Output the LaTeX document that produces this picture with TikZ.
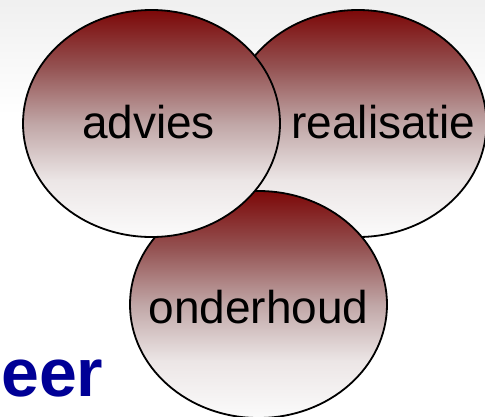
\documentclass[tikz,border=0pt]{standalone}
\usepackage{fontspec}
\setmainfont{Liberation Sans}
\usetikzlibrary{shapes.geometric}
\definecolor{sc0}{RGB}{251,251,251}
\definecolor{sc1}{RGB}{236,230,230}
\definecolor{sc2}{RGB}{192,166,166}
\definecolor{sc3}{RGB}{148,82,82}
\definecolor{sc4}{RGB}{124,8,8}
\definecolor{eerblue}{RGB}{0,0,150}
\pgfdeclareverticalshading{ovalshade}{100bp}{color(0bp)=(sc0); color(25bp)=(sc0); color(37.5bp)=(sc1); color(50bp)=(sc2); color(62.5bp)=(sc3); color(75bp)=(sc4); color(100bp)=(sc4)}
\tikzset{
  oval/.style={ellipse, draw=black, line width=1.8pt, shading=ovalshade,
    minimum width=257pt, minimum height=227pt, inner sep=0pt},
  ovallabel/.style={anchor=base, inner sep=0pt, font=\fontsize{46}{46}\selectfont},
}
\begin{document}
\begin{tikzpicture}[x=1pt,y=-1pt]
\useasboundingbox (0,0) rectangle (485,416);
\clip (0,0) rectangle (485,416);
\fill[white] (0,0) rectangle (485,416);
\shade[top color=black!6, bottom color=white] (0,0) rectangle (485,115);
\node[oval] (realisatie) at (358,123.5) {};
\node[oval] (onderhoud) at (258.5,304.5) {};
\node[oval] (advies) at (151.5,123.5) {};
\node[ovallabel] (tadvies) at (148.5,138) {advies};
\node[ovallabel] (trealisatie) at (383.5,138) {realisatie};
\node[ovallabel] (tonderhoud) at (258.5,323) {onderhoud};
\node[anchor=base west, inner sep=0pt, text=eerblue,
  font=\fontsize{68}{68}\selectfont\bfseries] (eer) at (1,396) {eer};
\end{tikzpicture}
\end{document}
